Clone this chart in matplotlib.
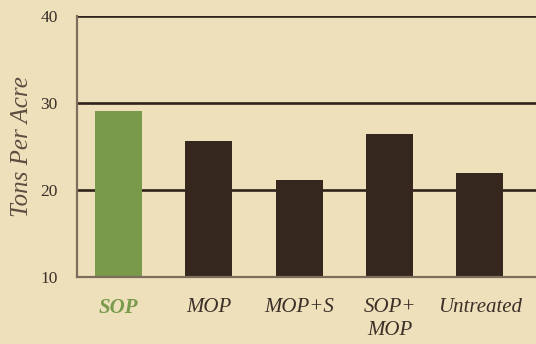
import matplotlib.pyplot as plt

# yield per treatment, tons per acre
treatments = ['SOP', 'MOP', 'MOP+S', 'SOP+\nMOP', 'Untreated']
tons_per_acre = [29.1, 25.6, 21.1, 26.4, 22.0]
y_ticks = [10, 20, 30, 40]

BG = '#efe0bc'
GREEN = '#789a4a'
DARK = '#35271e'
SPINE = '#7d6d5c'
TEXT = '#3a3028'

plt.rcParams['font.family'] = ['Liberation Serif', 'DejaVu Serif']

fig = plt.figure(figsize=(5.36, 3.44), dpi=100, facecolor=BG)
ax = fig.add_axes([77 / 536, 1 - 277 / 344, 1 - 77 / 536, (277 - 16) / 344])
ax.set_facecolor(BG)

colors = [GREEN] + [DARK] * (len(treatments) - 1)
ax.bar(range(len(treatments)), tons_per_acre, width=0.52, bottom=0,
       color=colors, zorder=3)

ax.set_ylim(10, 40)
ax.set_xlim(-0.46, len(treatments) - 1 + 0.62)
ax.set_yticks(y_ticks)
ax.set_yticklabels([str(t) for t in y_ticks], fontsize=12.5, color=TEXT)
ax.tick_params(axis='y', length=0, pad=14)
ax.tick_params(axis='x', length=0, pad=15)

# horizontal rules at 20, 30, 40
for t in y_ticks[1:]:
    ax.axhline(t, color='#2e2219', linewidth=1.9, zorder=2)

ax.set_xticks(range(len(treatments)))
ax.set_xticklabels(treatments, fontsize=15, style='italic', color=TEXT,
                   linespacing=1.3, va='top')
first = ax.get_xticklabels()[0]
first.set_color(GREEN)
first.set_fontweight('bold')

ax.set_ylabel('Tons Per Acre', fontsize=18, style='italic', color='#5b4d40',
              labelpad=5)

for side in ['top', 'right']:
    ax.spines[side].set_visible(False)
for side in ['left', 'bottom']:
    ax.spines[side].set_color(SPINE)
    ax.spines[side].set_linewidth(1.6)
    ax.spines[side].set_zorder(4)

fig.savefig('out.png', dpi=100, facecolor=BG)
